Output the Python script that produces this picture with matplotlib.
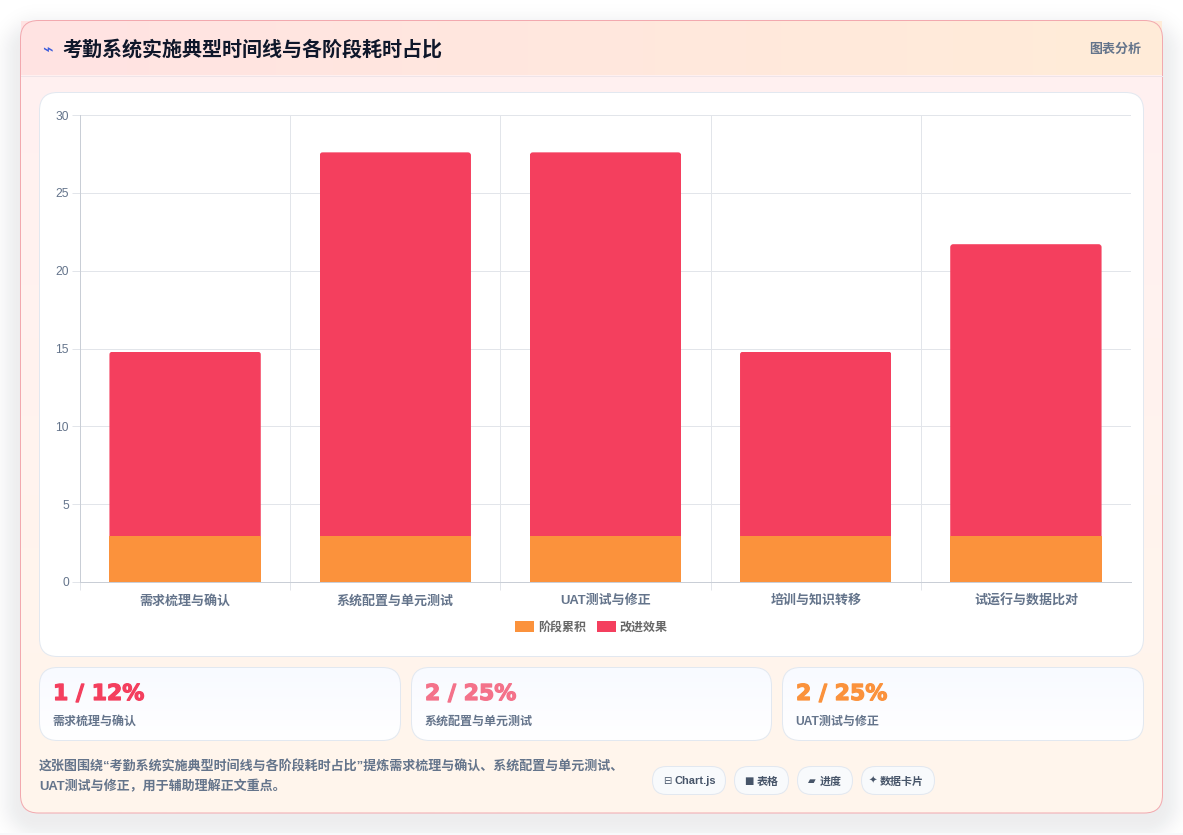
import numpy as np
import matplotlib
matplotlib.use("Agg")
import matplotlib.pyplot as plt
import matplotlib.patheffects as pe
from matplotlib.patches import FancyBboxPatch, Patch, PathPatch, Rectangle
from matplotlib.path import Path

plt.rcParams['font.family'] = ['Liberation Sans', 'Noto Sans CJK SC', 'DejaVu Sans']

W, H = 1183, 835

categories = ["需求梳理与确认", "系统配置与单元测试", "UAT测试与修正", "培训与知识转移", "试运行与数据比对"]
stage_total = [2.95, 2.95, 2.95, 2.95, 2.95]
improvement = [11.85, 24.65, 24.65, 11.85, 18.75]
series_names = ["阶段累积", "改进效果"]
y_ticks = [0, 5, 10, 15, 20, 25, 30]

stat_values = ["1 / 12%", "2 / 25%", "2 / 25%"]
stat_labels = ["需求梳理与确认", "系统配置与单元测试", "UAT测试与修正"]
stat_colors = ["#f43f5e", "#f4728a", "#fb923c"]

pill_icons = ["⊟", "■", "▰", "✦"]
pill_labels = ["Chart.js", "表格", "进度", "数据卡片"]

title = "考勤系统实施典型时间线与各阶段耗时占比"
note_lines = ["这张图围绕“考勤系统实施典型时间线与各阶段耗时占比”提炼需求梳理与确认、系统配置与单元测试、",
              "UAT测试与修正，用于辅助理解正文重点。"]

ORANGE = "#fb923c"
RED = "#f43f5e"
SLATE = "#64748b"
HAIR = 0.72  # one pixel line width in points


def px(size):
    # css pixels to points at dpi 100
    return size * 0.72


def round_box(ax, x0, y0, x1, y1, r, **kw):
    box = FancyBboxPatch((x0 + r, y0 + r), x1 - x0 - 2 * r, y1 - y0 - 2 * r,
                         boxstyle=f"round,pad={r},rounding_size={r}", **kw)
    ax.add_patch(box)
    return box


def gradient(ax, x0, y0, x1, y1, c0, c1, clip=None, vertical=False, n=256):
    # linear colour ramp painted with imshow, corners optionally clipped
    a = np.array(matplotlib.colors.to_rgb(c0))
    b = np.array(matplotlib.colors.to_rgb(c1))
    t = np.linspace(0, 1, n)[:, None]
    ramp = a * (1 - t) + b * t
    img = ramp[:, None, :] if vertical else ramp[None, :, :]
    im = ax.imshow(img, extent=(x0, x1, y1, y0), aspect="auto", interpolation="bilinear", zorder=1)
    if clip is not None:
        im.set_clip_path(clip)
    return im


def rounded_top(bar, ax, r_px=3):
    # clip the plain rectangle to a path with small rounded top corners
    x0, y0 = bar.get_x(), bar.get_y()
    x1, y1 = x0 + bar.get_width(), y0 + bar.get_height()
    sx = (ax.get_xlim()[1] - ax.get_xlim()[0]) / ax.bbox.width
    sy = (ax.get_ylim()[1] - ax.get_ylim()[0]) / ax.bbox.height
    rx, ry = r_px * sx, r_px * sy
    verts = [(x0, y0), (x0, y1 - ry), (x0, y1), (x0 + rx, y1), (x1 - rx, y1), (x1, y1),
             (x1, y1 - ry), (x1, y0), (x0, y0)]
    codes = [Path.MOVETO, Path.LINETO, Path.CURVE3, Path.CURVE3, Path.LINETO,
             Path.CURVE3, Path.CURVE3, Path.LINETO, Path.CLOSEPOLY]
    bar.set_clip_path(PathPatch(Path(verts, codes), transform=ax.transData))


fig = plt.figure(figsize=(W / 100, H / 100), dpi=100, facecolor="white")

# page layer, measured in pixels from the top left
bg = fig.add_axes([0, 0, 1, 1], zorder=0)
bg.set_xlim(0, W)
bg.set_ylim(H, 0)
bg.axis("off")

# soft shadow under the card
yy, xx = np.mgrid[0:H, 0:W] + 0.5
cx, cy, hw, hh, rad = 591.5, 428, 571, 393, 18
qx = np.abs(xx - cx) - (hw - rad)
qy = np.abs(yy - cy) - (hh - rad)
dist = np.hypot(np.maximum(qx, 0), np.maximum(qy, 0)) - rad
shade = np.zeros((H, W, 4))
shade[..., :3] = 0.06, 0.09, 0.16
shade[..., 3] = 0.075 * np.exp(-(np.maximum(dist, 0) / 18) ** 2)
bg.imshow(shade, extent=(0, W, H, 0), aspect="auto", zorder=0)
bg.add_patch(Rectangle((0, 833), W, 2, fc="#f8f9fb", ec="none", zorder=0.5))

# card body and header strip
card_clip = round_box(bg, 20.5, 20.5, 1162.5, 813, 18, fc="#fff3ee", ec="none", zorder=0.8)
gradient(bg, 20, 20, 1163, 813, "#fff0f1", "#fff6ec", clip=card_clip, vertical=True)
round_box(bg, 20.5, 20.5, 1162.5, 813, 18, fc="none", ec="#f2a9af", lw=HAIR, zorder=1.5)
gradient(bg, 21, 21, 1162, 75, "#ffe3e3", "#ffecd8")
bg.plot([21, 1162], [75.5, 75.5], color="#efe4e8", lw=HAIR, zorder=2)

bg.text(47, 50.5, "⌁", fontsize=px(18), color="#3b5bdb", ha="center", va="center", zorder=3,
        family=["DejaVu Sans"])
bg.text(62, 50, title, fontsize=px(20), fontweight="bold", color="#0f172a", va="center", zorder=3)
bg.text(1141, 49.5, "图表分析", fontsize=px(13), fontweight="bold", color=SLATE, ha="right", va="center", zorder=3)

# white panel holding the chart
round_box(bg, 39.5, 92.5, 1143.5, 656.5, 18, fc="white", ec="#e2e8f0", lw=HAIR, zorder=2)

# stat cards
stat_x = [(39.5, 400.5), (411.5, 771.5), (782.5, 1143.5)]
for (x0, x1), val, lab, col in zip(stat_x, stat_values, stat_labels, stat_colors):
    clip = round_box(bg, x0, 667.5, x1, 740.5, 18, fc="white", ec="none", zorder=2)
    gradient(bg, x0, 667, x1, 741, "#f8faff", "#ffffff", clip=clip, vertical=True).set_zorder(2.1)
    round_box(bg, x0, 667.5, x1, 740.5, 18, fc="none", ec="#e2e8f0", lw=HAIR, zorder=2.2)
    big = bg.text(x0 + 13.5, 694, val, fontsize=px(22), fontweight="bold", color=col, va="center", zorder=3,
                  family=["DejaVu Sans"])
    big.set_path_effects([pe.withStroke(linewidth=0.9, foreground=col)])
    bg.text(x0 + 13, 721.5, lab, fontsize=px(12), fontweight="bold", color=SLATE, va="center", zorder=3)

# note under the cards
bg.text(39, 767, note_lines[0], fontsize=px(13), fontweight="bold", color=SLATE, va="center", zorder=3)
bg.text(39, 787, note_lines[1], fontsize=px(13), fontweight="bold", color=SLATE, va="center", zorder=3)

# small tag pills
pill_x = [(652.5, 725.5), (734.5, 788.5), (797.5, 852.5), (861.5, 934.5)]
icon_x = [667, 749, 812, 873]
text_x = [675, 756.5, 820, 880]
for (x0, x1), ix, tx, icon, lab in zip(pill_x, icon_x, text_x, pill_icons, pill_labels):
    round_box(bg, x0, 766.5, x1, 794.5, 14, fc="#f8fafc", ec="#e2e8f0", lw=HAIR, zorder=2)
    bg.text(ix, 781, icon, fontsize=px(10), color="#475569", ha="center", va="center", zorder=3,
            family=["DejaVu Sans"])
    bg.text(tx, 781.5, lab, fontsize=px(11), fontweight="bold", color="#475569", va="center", zorder=3)

bg.set_xlim(0, W)
bg.set_ylim(H, 0)

# bar chart
ax = fig.add_axes([80 / W, 1 - 582 / H, (1131 - 80) / W, (582 - 115) / H], zorder=1)
ax.patch.set_alpha(0)
x = np.arange(len(categories))
ax.set_xlim(-0.5, len(categories) - 0.5)
ax.set_ylim(0, 30)
ax.bar(x, stage_total, width=0.72, color=ORANGE, zorder=3)
red_bars = ax.bar(x, improvement, width=0.72, bottom=stage_total, color=RED, zorder=3)
for bar in red_bars:
    rounded_top(bar, ax)

ax.set_yticks(y_ticks)
ax.set_xticks(x)
ax.set_xticklabels(categories, fontsize=px(13), fontweight="bold", color=SLATE)
ax.set_xticks(np.arange(len(categories)) - 0.5, minor=True)
ax.grid(True, axis="y", color="#e2e5ea", lw=HAIR, zorder=0)
ax.grid(True, axis="x", which="minor", color="#e2e5ea", lw=HAIR, zorder=0)
ax.tick_params(axis="x", which="major", length=0, pad=9.2)
ax.tick_params(axis="x", which="minor", length=px(8), width=HAIR, color="#e2e5ea")
ax.tick_params(axis="y", length=px(8), width=HAIR, color="#e2e5ea", pad=px(3), labelsize=px(12), labelcolor=SLATE)
for side in ("top", "right"):
    ax.spines[side].set_visible(False)
for side in ("left", "bottom"):
    ax.spines[side].set_color("#c9ced6")
    ax.spines[side].set_linewidth(HAIR)

handles = [Patch(fc=ORANGE, label=series_names[0]), Patch(fc=RED, label=series_names[1])]
fig.legend(handles=handles, loc="center", bbox_to_anchor=(591.5 / W, 1 - 627.5 / H), ncol=2, frameon=False,
           prop={"size": px(12), "weight": "bold"}, labelcolor="#666666", handlelength=1.55, handleheight=1.0,
           handletextpad=0.35, columnspacing=0.9, borderpad=0, borderaxespad=0)

fig.savefig("out.png", dpi=100)
